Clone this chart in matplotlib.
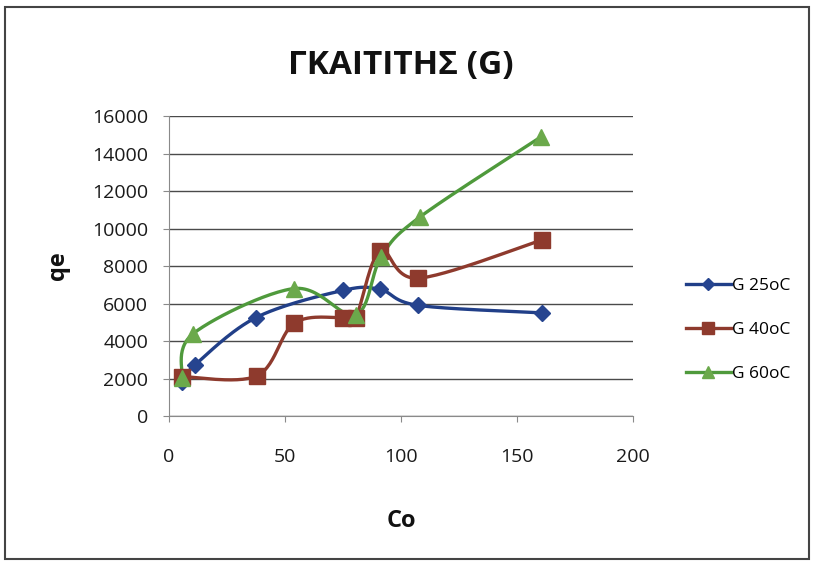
import numpy as np
import matplotlib.pyplot as plt
from matplotlib.lines import Line2D
from matplotlib.patches import Rectangle

# data
x_25 = [5.5, 11, 37.5, 75, 91, 107.5, 161]
q_25 = [1800, 2700, 5250, 6700, 6750, 5900, 5500]

x_40 = [5.5, 38, 54, 75, 80.5, 91, 107.5, 161]
q_40 = [2100, 2150, 4950, 5250, 5250, 8800, 7350, 9400]

x_60 = [5.5, 10.5, 54, 80.5, 91.5, 108, 160.5]
q_60 = [2050, 4400, 6800, 5400, 8500, 10600, 14900]

labels = ['G 25oC', 'G 40oC', 'G 60oC']
colors = ['#213F88', '#8E3A2D', '#4F9A3C']
marker_colors = ['#26448F', '#8E3A2D', '#6BA94B']
markers = ['D', 's', '^']
msizes = [8, 11, 11]

plt.rcParams['font.family'] = ['Open Sans', 'DejaVu Sans']


def smooth(xs, ys, sx, sy, n=30):
    # Excel-like smoothed line: cubic bezier, control points from neighbours
    p = np.column_stack([np.array(xs) * sx, np.array(ys) * sy])
    pts = np.vstack([p[0], p, p[-1]])
    out = []
    t = np.linspace(0, 1, n)[:, None]
    for i in range(1, len(pts) - 2):
        a, b = pts[i], pts[i + 1]
        c1 = a + (pts[i + 1] - pts[i - 1]) / 6
        c2 = b - (pts[i + 2] - pts[i]) / 6
        seg = (1 - t) ** 3 * a + 3 * (1 - t) ** 2 * t * c1 + 3 * (1 - t) * t ** 2 * c2 + t ** 3 * b
        out.append(seg)
    c = np.vstack(out)
    return c[:, 0] / sx, c[:, 1] / sy


fig = plt.figure(figsize=(8.14, 5.66), dpi=100)
ax = fig.add_axes([0.2076, 0.265, 0.570, 0.530])

sx = 461 / 200
sy = 300 / 16000
series = [(x_25, q_25), (x_40, q_40), (x_60, q_60)]
for (xs, ys), c, mc, m, ms in zip(series, colors, marker_colors, markers, msizes):
    cx, cy = smooth(xs, ys, sx, sy)
    ax.plot(cx, cy, color=c, linewidth=2.4, zorder=3)
    ax.plot(xs, ys, linestyle='none', marker=m, markersize=ms, color=mc,
            markeredgecolor=mc, zorder=4)

ax.set_xlim(0, 200)
ax.set_ylim(0, 16000)
ax.set_xticks([0, 50, 100, 150, 200])
ax.set_yticks(range(0, 16001, 2000))
ax.yaxis.grid(True, color='#4a4a4a', linewidth=1.0)
ax.set_axisbelow(True)
for s in ['top', 'right']:
    ax.spines[s].set_visible(False)
for s in ['left', 'bottom']:
    ax.spines[s].set_color('#8a8a8a')
ax.tick_params(axis='both', colors='#8a8a8a', labelcolor='#1a1a1a',
               labelsize=14, length=4)
ax.tick_params(axis='x', pad=19)
ax.tick_params(axis='y', pad=11)

ax.set_title('ΓΚΑΙΤΙΤΗΣ (G)', fontsize=24, fontweight='bold', pad=30, color='#111111')
ax.set_xlabel('Co', fontsize=17, fontweight='bold', labelpad=31, color='#111111')
ax.set_ylabel('qe', fontsize=17, fontweight='bold', labelpad=16, color='#111111')

handles = [Line2D([], [], color=c, marker=m, markersize=ms * 0.8, linewidth=2.4,
                  markerfacecolor=mc, markeredgecolor=mc)
           for c, mc, m, ms in zip(colors, marker_colors, markers, msizes)]
fig.legend(handles, labels, loc='center left', bbox_to_anchor=(0.823, 0.417),
           frameon=False, fontsize=12.5, handlelength=2.6, handletextpad=0.1,
           labelspacing=1.6)

fig.patches.append(Rectangle((0.006, 0.012), 0.988, 0.975, transform=fig.transFigure,
                             fill=False, edgecolor='#444444', linewidth=1.5))

fig.savefig('out.png', dpi=100)
